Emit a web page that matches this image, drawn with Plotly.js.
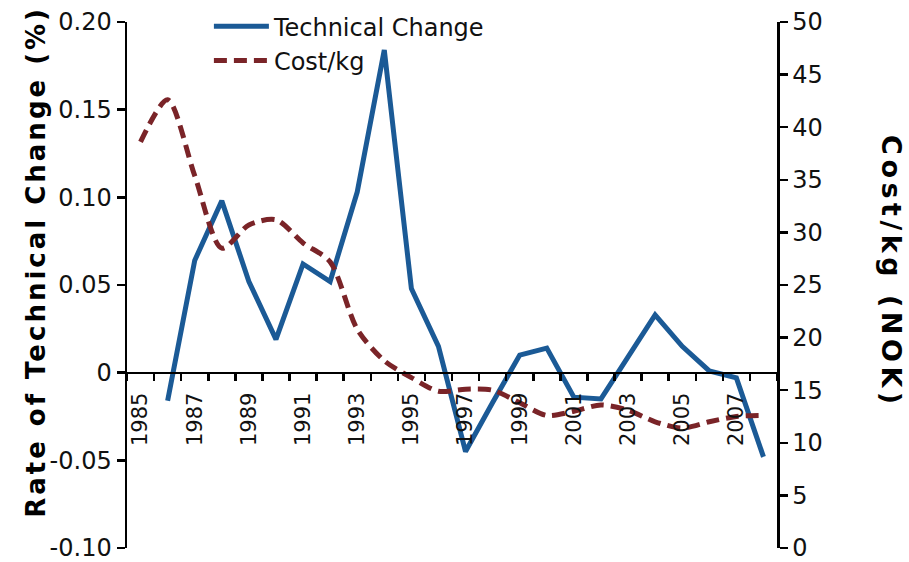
<!DOCTYPE html>
<html>
<head>
<meta charset="utf-8">
<script src="https://cdn.plot.ly/plotly-3.0.1.min.js"></script>
<style>html,body{margin:0;padding:0;background:#fff;}#chart{width:909px;height:562px;}</style>
</head>
<body>
<div id="chart"></div>
<script>
// Data
const years = [1985,1986,1987,1988,1989,1990,1991,1992,1993,1994,1995,1996,1997,1998,1999,2000,2001,2002,2003,2004,2005,2006,2007,2008];
const technicalChange = [null,-0.016,0.064,0.098,0.052,0.019,0.062,0.052,0.103,0.184,0.048,0.015,-0.045,-0.017,0.010,0.014,-0.014,-0.015,0.009,0.033,0.015,0.001,-0.003,-0.048];
const costPerKg = [38.6,42.6,35.4,28.5,30.7,31.2,29.0,27.2,20.8,17.8,16.2,14.9,15.1,15.0,13.8,12.6,13.0,13.6,13.1,12.0,11.4,12.0,12.5,12.6];
const xTickVals = [1985,1987,1989,1991,1993,1995,1997,1999,2001,2003,2005,2007];
const xTickText = ["1985","1987","1989","1991","1993","1995","1997","1999","2001","2003","2005","2007"];
const leftTickVals = [-0.10,-0.05,0,0.05,0.10,0.15,0.20];
const leftTickText = ["-0.10","-0.05","0","0.05","0.10","0.15","0.20"];

const tickFont = {family: "DejaVu Sans", size: 24, color: "#111"};

const traces = [
  {
    x: years, y: technicalChange, name: "Technical Change",
    type: "scatter", mode: "lines", connectgaps: false,
    line: {color: "#1b5a96", width: 5},
    xaxis: "x", yaxis: "y", hoverinfo: "skip"
  },
  {
    x: years, y: costPerKg, name: "Cost/kg",
    type: "scatter", mode: "lines",
    line: {color: "#7a2428", width: 5, dash: "13px,7px", shape: "spline", smoothing: 0.8},
    xaxis: "x", yaxis: "y2", hoverinfo: "skip"
  }
];

const layout = {
  width: 909, height: 562,
  margin: {l: 127, r: 132, t: 22, b: 14, autoexpand: false},
  paper_bgcolor: "#fff", plot_bgcolor: "#fff",
  showlegend: true,
  legend: {
    x: 0.126, y: 1.034, xanchor: "left", yanchor: "top",
    bgcolor: "rgba(0,0,0,0)", font: {family: "DejaVu Sans", size: 24, color: "#111"},
    itemwidth: 55, tracegroupgap: 0
  },
  xaxis: {
    type: "linear", range: [1984.5, 2008.5],
    anchor: "free", position: 1/3,
    showgrid: false, zeroline: false,
    showline: true, linecolor: "#000", linewidth: 2.5,
    tickmode: "array", tickvals: xTickVals, ticktext: xTickText,
    tickangle: -90, ticks: "outside", ticklen: 10, tickcolor: "rgba(0,0,0,0)",
    tickfont: {family: "DejaVu Sans", size: 21, color: "#111"},
    minor: {tickmode: "linear", tick0: 1984.5, dtick: 1, ticks: "outside", ticklen: 7, tickwidth: 2.5, tickcolor: "#000", showgrid: false}
  },
  yaxis: {
    range: [-0.10, 0.20],
    showgrid: false, zeroline: false,
    showline: true, linecolor: "#000", linewidth: 2.5,
    tickmode: "array", tickvals: leftTickVals, ticktext: leftTickText,
    ticks: "outside", ticklen: 8, tickwidth: 2.5, tickcolor: "#000",
    tickfont: tickFont, ticklabeloverflow: "allow"
  },
  yaxis2: {
    range: [0, 50], overlaying: "y", side: "right", anchor: "x",
    showgrid: false, zeroline: false,
    showline: true, linecolor: "#000", linewidth: 2.5,
    tickmode: "linear", tick0: 0, dtick: 5,
    ticks: "outside", ticklen: 8, tickwidth: 2.5, tickcolor: "#000",
    tickfont: tickFont, ticklabeloverflow: "allow"
  },
  annotations: [
    {
      xref: "paper", yref: "paper", x: -0.14, y: 0.544,
      xanchor: "center", yanchor: "middle", textangle: -90, showarrow: false,
      text: '<span style="letter-spacing:3px">Rate of Technical Change (%)</span>',
      font: {family: "DejaVu Sans", size: 26, weight: "bold", color: "#000"}
    },
    {
      xref: "paper", yref: "paper", x: 1.175, y: 0.525,
      xanchor: "center", yanchor: "middle", textangle: 90, showarrow: false,
      text: '<span style="letter-spacing:4.5px">Cost/kg (NOK)</span>',
      font: {family: "DejaVu Sans", size: 27, weight: "bold", color: "#000"}
    }
  ]
};

Plotly.newPlot("chart", traces, layout, {displayModeBar: false, staticPlot: true});
</script>
</body>
</html>
